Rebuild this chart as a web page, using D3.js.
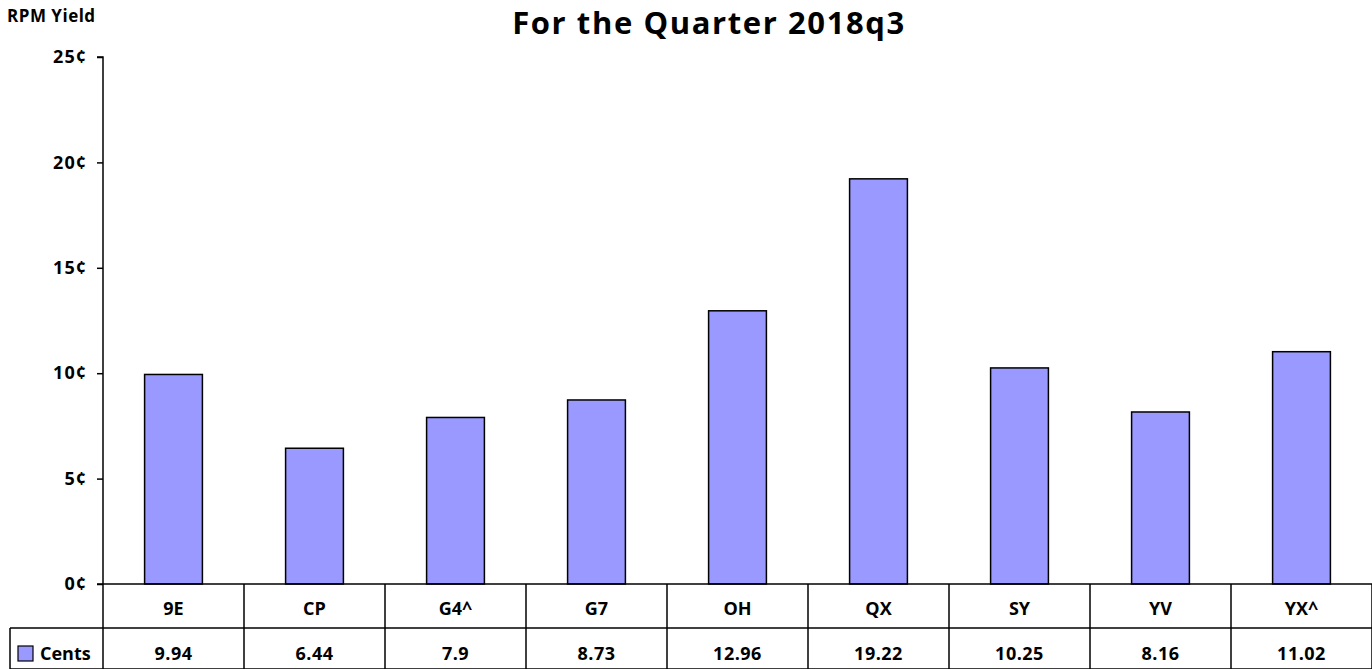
<!DOCTYPE html>
<html>
<head>
<meta charset="utf-8">
<script src="https://cdn.jsdelivr.net/npm/d3@7"></script>
<style>
  body { margin: 0; background: #fff; }
  text { font-family: "Open Sans", sans-serif; font-weight: bold; fill: #000; }
</style>
</head>
<body>
<svg id="chart" width="1372" height="669"></svg>
<script>
var categories = ["9E", "CP", "G4^", "G7", "OH", "QX", "SY", "YV", "YX^"];
var cents = [9.94, 6.44, 7.9, 8.73, 12.96, 19.22, 10.25, 8.16, 11.02];
var yTicks = [0, 5, 10, 15, 20, 25];
var seriesName = "Cents";
var titleText = "For the Quarter 2018q3";
var axisTitle = "RPM Yield";

var svg = d3.select("#chart");
var plotL = 103, plotR = 1372, plotT = 57, plotB = 584;
var rowH1 = 44, rowH2 = 41;

var x = d3.scaleBand().domain(categories).range([plotL, plotR]).paddingInner(0).paddingOuter(0);
var y = d3.scaleLinear().domain([0, 25]).range([plotB, plotT]);
var barW = x.bandwidth() * 0.41;

svg.append("text")
  .attr("x", 709).attr("y", 34)
  .attr("text-anchor", "middle")
  .style("font-size", "31px")
  .style("letter-spacing", "1.6px")
  .text(titleText);

svg.append("text")
  .attr("x", 7).attr("y", 22)
  .style("font-size", "17px")
  .style("letter-spacing", "0.5px")
  .text(axisTitle);

// bars
svg.selectAll("rect.bar")
  .data(categories)
  .enter()
  .append("rect")
  .attr("class", "bar")
  .attr("x", function(d){ return x(d) + (x.bandwidth() - barW) / 2; })
  .attr("y", function(d, i){ return y(cents[i]); })
  .attr("width", barW)
  .attr("height", function(d, i){ return plotB - y(cents[i]); })
  .attr("fill", "#9999ff")
  .attr("stroke", "#000")
  .attr("stroke-width", 1.5);

// y axis
var yAxis = d3.axisLeft(y)
  .tickValues(yTicks)
  .tickSize(6)
  .tickFormat(function(d){ return d + "\u00a2"; });
var ya = svg.append("g").attr("transform", "translate(" + plotL + ",0)").call(yAxis);
ya.select(".domain").attr("stroke", "#000").attr("stroke-width", 1.5).attr("d", "M-6," + plotT + "H0V" + plotB);
ya.selectAll(".tick line").attr("stroke", "#000").attr("stroke-width", 1.5);
ya.selectAll(".tick text")
  .attr("x", -16)
  .style("font-size", "18px")
  .style("letter-spacing", "1px")
  .style("font-family", "'Open Sans', sans-serif")
  .style("font-weight", "bold");

// data table
var g = svg.append("g").attr("fill", "none").attr("stroke", "#000").attr("stroke-width", 1.5);
g.append("line").attr("x1", plotL - 6).attr("x2", plotR).attr("y1", plotB).attr("y2", plotB);
g.append("line").attr("x1", 10).attr("x2", plotR).attr("y1", plotB + rowH1).attr("y2", plotB + rowH1);
g.append("line").attr("x1", 10).attr("x2", plotR).attr("y1", plotB + rowH1 + rowH2).attr("y2", plotB + rowH1 + rowH2);
g.append("line").attr("x1", 10).attr("x2", 10).attr("y1", plotB + rowH1).attr("y2", plotB + rowH1 + rowH2);
g.append("line").attr("x1", plotL).attr("x2", plotL).attr("y1", plotB).attr("y2", plotB + rowH1 + rowH2);
g.selectAll("line.sep")
  .data(categories)
  .enter()
  .append("line")
  .attr("class", "sep")
  .attr("x1", function(d){ return x(d) + x.bandwidth(); })
  .attr("x2", function(d){ return x(d) + x.bandwidth(); })
  .attr("y1", plotB)
  .attr("y2", plotB + rowH1 + rowH2);

svg.selectAll("text.cat")
  .data(categories)
  .enter()
  .append("text")
  .attr("class", "cat")
  .attr("x", function(d){ return x(d) + x.bandwidth() / 2; })
  .attr("y", plotB + 31)
  .attr("text-anchor", "middle")
  .style("font-size", "18px")
  .text(function(d){ return d; });

svg.selectAll("text.val")
  .data(categories)
  .enter()
  .append("text")
  .attr("class", "val")
  .attr("x", function(d){ return x(d) + x.bandwidth() / 2; })
  .attr("y", plotB + rowH1 + 32)
  .attr("text-anchor", "middle")
  .style("font-size", "18px")
  .style("letter-spacing", "0.5px")
  .text(function(d, i){ return cents[i]; });

// legend key
svg.append("rect")
  .attr("x", 18).attr("y", plotB + rowH1 + 18)
  .attr("width", 15).attr("height", 15)
  .attr("fill", "#9999ff").attr("stroke", "#000").attr("stroke-width", 1.2);
svg.append("text")
  .attr("x", 40).attr("y", plotB + rowH1 + 32)
  .style("font-size", "18px")
  .text(seriesName);
</script>
</body>
</html>
